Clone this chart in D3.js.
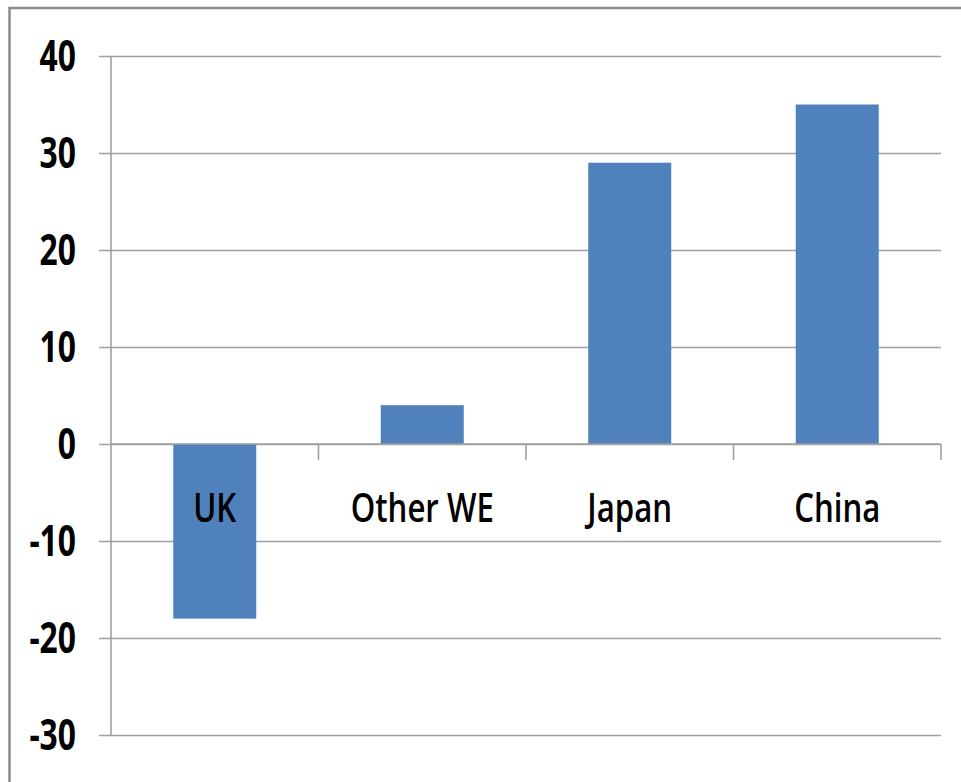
<!DOCTYPE html>
<html>
<head>
<meta charset="utf-8">
<script src="https://cdn.jsdelivr.net/npm/d3@7"></script>
<style>
  html, body { margin: 0; padding: 0; background: #fff; }
  svg { display: block; }
</style>
</head>
<body>
<svg id="chart" width="961" height="782"></svg>
<script>
// Change by region
const categories = ["UK", "Other WE", "Japan", "China"];
const values = [-18, 4, 29, 35];
const yTicks = [-30, -20, -10, 0, 10, 20, 30, 40];

(function () {
  const svg = d3.select("#chart");
  const W = 961, H = 782;
  const plotL = 111, plotR = 941, plotT = 56, plotB = 735;
  const font = "'Open Sans', 'Liberation Sans', sans-serif";
  const gridColor = "#a0a0a0";

  // outer frame
  svg.append("rect")
    .attr("x", 9.5).attr("y", 8)
    .attr("width", W + 20).attr("height", H + 20)
    .attr("fill", "none").attr("stroke", "#8c8c8c").attr("stroke-width", 2.5);

  const x = d3.scaleBand().domain(categories).range([plotL, plotR]).padding(0);
  const y = d3.scaleLinear().domain([-30, 40]).range([plotB, plotT]);

  // horizontal gridlines with short left tick marks
  svg.append("g")
    .attr("transform", `translate(${plotL},0)`)
    .call(d3.axisLeft(y).tickValues(yTicks).tickSize(-(plotR - plotL)).tickFormat(""))
    .call(g => g.select(".domain").remove())
    .call(g => g.selectAll(".tick line")
      .attr("x1", -12)
      .attr("stroke", gridColor).attr("stroke-width", 1.6));

  // y tick labels (condensed)
  svg.append("g").selectAll("text")
    .data(yTicks).join("text")
    .attr("transform", d => `translate(76,${y(d)}) scale(0.74,1)`)
    .attr("dy", "0.36em")
    .attr("text-anchor", "end")
    .attr("font-family", font).attr("font-weight", "bold")
    .attr("font-size", 43).attr("fill", "#000")
    .text(d => d);

  // bars
  const bw = x.bandwidth() * 0.4;
  svg.append("g").selectAll("rect")
    .data(categories).join("rect")
    .attr("x", d => x(d) + (x.bandwidth() - bw) / 2)
    .attr("width", bw)
    .attr("y", (d, i) => y(Math.max(0, values[i])))
    .attr("height", (d, i) => Math.abs(y(values[i]) - y(0)))
    .attr("fill", "#4f81bd");

  // vertical axis line
  svg.append("line")
    .attr("x1", plotL).attr("x2", plotL).attr("y1", plotT).attr("y2", plotB)
    .attr("stroke", gridColor).attr("stroke-width", 1.6);

  // category axis along zero
  svg.append("line")
    .attr("x1", plotL).attr("x2", plotR).attr("y1", y(0)).attr("y2", y(0))
    .attr("stroke", gridColor).attr("stroke-width", 1.6);

  // category separator ticks
  const sepX = categories.map(c => x(c) + x.bandwidth());
  svg.append("g").selectAll("line")
    .data(sepX).join("line")
    .attr("x1", d => d).attr("x2", d => d)
    .attr("y1", y(0)).attr("y2", y(0) + 16)
    .attr("stroke", gridColor).attr("stroke-width", 1.6);

  // category labels (condensed)
  svg.append("g").selectAll("text")
    .data(categories).join("text")
    .attr("transform", d => `translate(${x(d) + x.bandwidth() / 2},522) scale(0.8,1)`)
    .attr("text-anchor", "middle")
    .attr("font-family", font).attr("font-weight", 600)
    .attr("font-size", 39).attr("fill", "#000")
    .text(d => d);
})();
</script>
</body>
</html>
